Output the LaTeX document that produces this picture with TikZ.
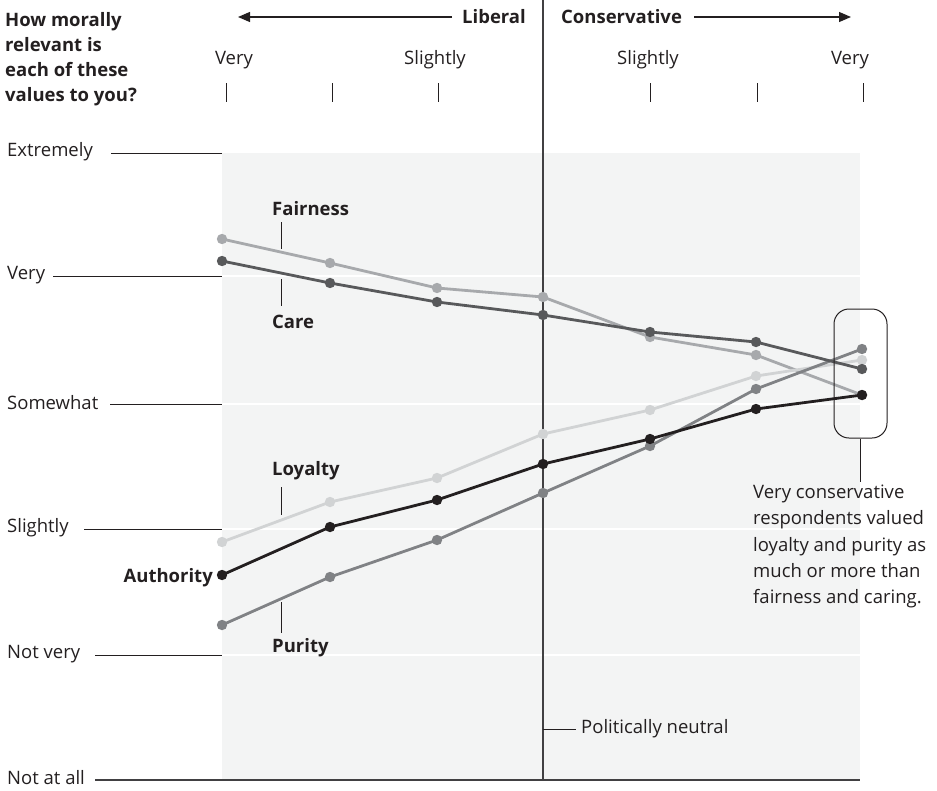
\documentclass[tikz,border=0pt]{standalone}
\usepackage{fontspec}
\setmainfont{Open Sans}
\usetikzlibrary{arrows.meta}
\definecolor{bgc}{HTML}{F3F4F4}
\definecolor{axisc}{HTML}{414042}
\definecolor{fairc}{HTML}{A7A9AC}
\definecolor{carec}{HTML}{58595B}
\definecolor{loyc}{HTML}{D1D3D4}
\definecolor{authc}{HTML}{231F20}
\definecolor{purc}{HTML}{808285}
\begin{document}
\begin{tikzpicture}[x=1pt,y=-1pt,
  font=\fontsize{18.5}{22}\selectfont,
  lbl/.style={inner sep=0pt, text=authc},
  blbl/.style={inner sep=0pt, font=\fontsize{18.5}{22}\selectfont\bfseries, text=authc},
  leader/.style={draw=authc, line width=1pt},
  gridw/.style={draw=white, line width=1.5pt},
  series/.style={line width=2.8pt, line join=round, line cap=round},
  tickmark/.style={draw=authc, line width=1pt},
  axisline/.style={draw=axisc, line width=1.4pt}]
\useasboundingbox (0,0) rectangle (937,790);

% background plot area
\fill[bgc] (222,153) rectangle (860,780);
\foreach \yy in {276,404,529,655} \draw[gridw] (222,\yy) -- (860,\yy);

% question
\node[blbl, anchor=north west, align=left, font=\fontsize{18.5}{25}\selectfont\bfseries] (question) at (5,12)
  {How morally\\relevant is\\each of these\\values to you?};

% top arrows
\node[blbl, anchor=east] (liberal) at (526,17) {Liberal};
\node[blbl, anchor=west] (conservative) at (561,17) {Conservative};
\coordinate (libtip) at (238,17);
\coordinate (libstart) at (452,17);
\coordinate (contip) at (851,17);
\coordinate (constart) at (694,17);
\draw[draw=authc, line width=1.2pt, -{Triangle[length=12pt,width=10pt]}] (libstart) -- (libtip);
\draw[draw=authc, line width=1.2pt, -{Triangle[length=12pt,width=10pt]}] (constart) -- (contip);

% top column labels and ticks
\node[lbl] (cVL) at (234,60) {Very};
\node[lbl] (cSL) at (435,60) {Slightly};
\node[lbl] (cSC) at (648,60) {Slightly};
\node[lbl] (cVC) at (850,60) {Very};
\foreach \xx in {226,332,438,650,757,863} \draw[tickmark] (\xx,83) -- (\xx,102);

% left level labels
\node[lbl, anchor=west] (lExt) at (7,152) {Extremely};
\node[lbl, anchor=west] (lVery) at (7,275) {Very};
\node[lbl, anchor=west] (lSome) at (7,403) {Somewhat};
\node[lbl, anchor=west] (lSl) at (7,528) {Slightly};
\node[lbl, anchor=west] (lNv) at (7,654) {Not very};
\node[lbl, anchor=west] (lNa) at (7,778) {Not at all};
\coordinate (gE0) at (111,153); \coordinate (gE1) at (222,153);
\coordinate (gV0) at (53,276);  \coordinate (gV1) at (222,276);
\coordinate (gS0) at (110,404); \coordinate (gS1) at (222,404);
\coordinate (gL0) at (84,529);  \coordinate (gL1) at (222,529);
\coordinate (gN0) at (95,655);  \coordinate (gN1) at (222,655);
\coordinate (gA0) at (95,780);  \coordinate (gA1) at (860,780);
\draw[leader] (gE0) -- (gE1);
\draw[leader] (gV0) -- (gV1);
\draw[leader] (gS0) -- (gS1);
\draw[leader] (gL0) -- (gL1);
\draw[leader] (gN0) -- (gN1);
\draw[axisline] (gA0) -- (gA1);

% neutral line
\coordinate (nTop) at (543,0);
\coordinate (nBot) at (543,780);
\draw[axisline] (nTop) -- (nBot);
\node[lbl, anchor=west] (neutral) at (581,729) {Politically neutral};
\coordinate (nMid) at (543,729);
\coordinate (nEnd) at (576,729);
\draw[leader] (nMid) -- (nEnd);

% data
\foreach \i/\xx in {1/222,2/330,3/437,4/543,5/650,6/756,7/862} {
  \coordinate (X\i) at (\xx,0);
}
\foreach \nm/\vals in {f/{239,263,288,297,337,355,395},
                        c/{261,283,302,315,332,342,369},
                        l/{542,502,478,434,410,376,360},
                        a/{575,527,500,464,439,409,395},
                        p/{625,577,540,493,446,389,349}} {
  \foreach \v [count=\i] in \vals {
    \coordinate (\nm\i) at (X\i |- 0,\v);
  }
}
\newcommand\seriesline[2]{%
  \draw[series, draw=#2] (#11) -- (#12) -- (#13) -- (#14) -- (#15) -- (#16) -- (#17);
  \foreach \i in {1,...,7} \fill[#2] (#1\i) circle (5.2pt);}
\seriesline{f}{fairc}
\seriesline{l}{loyc}
\seriesline{p}{purc}
\seriesline{c}{carec}
\seriesline{a}{authc}

% series labels
\node[blbl, anchor=west] (tFair) at (272,209) {Fairness};
\node[blbl, anchor=west] (tCare) at (272,322) {Care};
\node[blbl, anchor=west] (tLoy) at (272,471) {Loyalty};
\node[blbl, anchor=west] (tPur) at (272,648) {Purity};
\node[blbl, anchor=east] (tAuth) at (213,578) {Authority};
\coordinate (kF0) at (281,222); \coordinate (kF1) at (281,249);
\coordinate (kC0) at (281,279); \coordinate (kC1) at (281,306);
\coordinate (kL0) at (281,487); \coordinate (kL1) at (281,515);
\coordinate (kP0) at (281,602); \coordinate (kP1) at (281,633);
\draw[leader] (kF0) -- (kF1);
\draw[leader] (kC0) -- (kC1);
\draw[leader] (kL0) -- (kL1);
\draw[leader] (kP0) -- (kP1);

% callout
\node[draw=authc, line width=1pt, rounded corners=15pt, minimum width=53pt, minimum height=129pt, inner sep=0pt] (box) at (860.5,373.5) {};
\coordinate (cEnd) at (860.5,482);
\draw[leader] (box.south) -- (cEnd);
\node[lbl, anchor=north west, align=left, font=\fontsize{18.5}{26.2}\selectfont] (note) at (753,485)
  {Very conservative\\respondents valued\\loyalty and purity as\\much or more than\\fairness and caring.};
\end{tikzpicture}
\end{document}
